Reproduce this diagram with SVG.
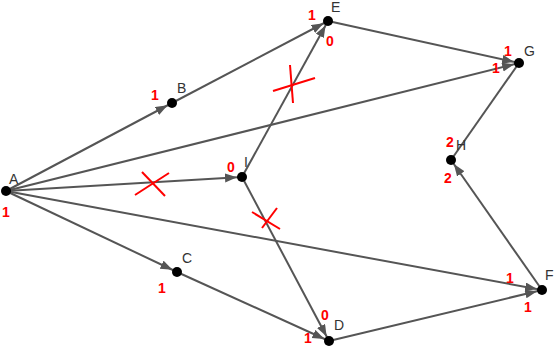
<svg xmlns="http://www.w3.org/2000/svg" width="556" height="346" viewBox="0 0 556 346">
<style>
.e{stroke:#555;stroke-width:2;fill:none}
.a{marker-end:url(#ar)}
.dot{fill:#000}
.lb{font-family:"Liberation Sans",Arial,sans-serif;font-size:14px;fill:#333}
.n{font-family:"Liberation Sans",Arial,sans-serif;font-size:14px;font-weight:bold;fill:#f00;text-anchor:middle}
.x{stroke:#f00;stroke-width:2;fill:none}
</style>
<defs>
<marker id="ar" markerUnits="userSpaceOnUse" markerWidth="18" markerHeight="10" refX="17" refY="4.5" orient="auto">
<path d="M0,0 L12,4.5 L0,9 z" fill="#555"/>
</marker>
</defs>
<rect width="556" height="346" fill="#fff"/>
<g id="connectors">
<line class="e a" x1="6" y1="191" x2="172" y2="103"/>
<line class="e a" x1="172" y1="103" x2="328" y2="21"/>
<line class="e a" x1="6" y1="191" x2="519" y2="63"/>
<line class="e a" x1="328" y1="21" x2="519" y2="63"/>
<line class="e a" x1="6" y1="191" x2="242" y2="177"/>
<line class="e a" x1="242" y1="177" x2="328" y2="21"/>
<line class="e a" x1="242" y1="177" x2="329" y2="341"/>
<line class="e a" x1="6" y1="191" x2="177" y2="272"/>
<line class="e a" x1="177" y1="272" x2="329" y2="341"/>
<line class="e a" x1="6" y1="191" x2="542" y2="290"/>
<line class="e a" x1="329" y1="341" x2="542" y2="290"/>
<line class="e a" x1="542" y1="290" x2="451" y2="160"/>
<line class="e" x1="451" y1="160" x2="519" y2="63"/>
</g>
<g id="crosses">
<line class="x" x1="135" y1="195" x2="169" y2="173"/>
<line class="x" x1="142" y1="172" x2="165" y2="196"/>
<line class="x" x1="290" y1="65" x2="293" y2="103"/>
<line class="x" x1="273" y1="91" x2="315" y2="78"/>
<line class="x" x1="252" y1="212" x2="280" y2="229"/>
<line class="x" x1="262" y1="228" x2="277" y2="208"/>
</g>
<g id="A"><circle class="dot" cx="6" cy="191" r="5"/><text class="lb" x="9" y="184">A</text><text class="n" x="6" y="217">1</text></g>
<g id="B"><circle class="dot" cx="172" cy="103" r="5"/><text class="lb" x="177" y="93">B</text><text class="n" x="155" y="100">1</text></g>
<g id="E"><circle class="dot" cx="328" cy="21" r="5"/><text class="lb" x="331" y="12">E</text><text class="n" x="312" y="20">1</text><text class="n" x="330" y="46">0</text></g>
<g id="G"><circle class="dot" cx="519" cy="63" r="5"/><text class="lb" x="524" y="56">G</text><text class="n" x="508" y="56">1</text><text class="n" x="496" y="73">1</text></g>
<g id="H"><circle class="dot" cx="451" cy="160" r="5"/><text class="lb" x="456" y="150">H</text><text class="n" x="450" y="147">2</text><text class="n" x="448" y="183">2</text></g>
<g id="I"><circle class="dot" cx="242" cy="177" r="5"/><text class="lb" x="244" y="167">I</text><text class="n" x="231" y="172">0</text></g>
<g id="C"><circle class="dot" cx="177" cy="272" r="5"/><text class="lb" x="182" y="263">C</text><text class="n" x="162" y="293">1</text></g>
<g id="D"><circle class="dot" cx="329" cy="341" r="5"/><text class="lb" x="334" y="330">D</text><text class="n" x="325" y="320">0</text><text class="n" x="308" y="343">1</text></g>
<g id="F"><circle class="dot" cx="542" cy="290" r="5"/><text class="lb" x="545" y="280">F</text><text class="n" x="510" y="283">1</text><text class="n" x="528" y="312">1</text></g>
</svg>
